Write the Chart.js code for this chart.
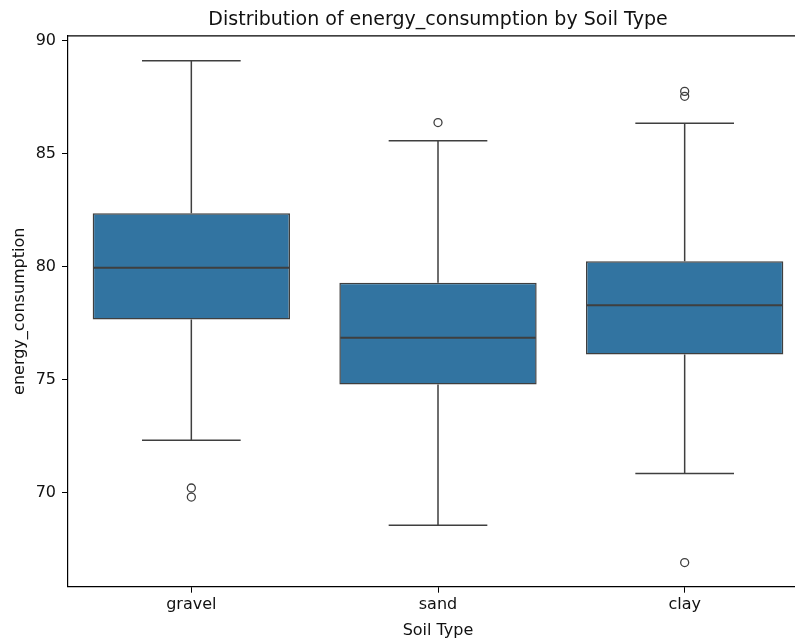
<!DOCTYPE html>
<html>
<head>
<meta charset="utf-8">
<script src="https://cdn.jsdelivr.net/npm/chart.js@4"></script>
<style>
  html, body { margin: 0; padding: 0; background: #fff; overflow: hidden; width: 795px; height: 641px; }
  #wrap { width: 795px; height: 641px; overflow: hidden; }
  canvas { display: block; }
</style>
</head>
<body>
<div id="wrap">
  <canvas id="chart" width="808" height="641" style="width:808px;height:641px"></canvas>
</div>
<script>
// Soil types and box statistics
const categories = ['gravel', 'sand', 'clay'];
const q1 = [77.66, 74.78, 76.11];
const median = [79.95, 76.85, 78.29];
const q3 = [82.36, 79.29, 80.24];
const whiskerLow = [72.31, 68.55, 70.84];
const whiskerHigh = [89.11, 85.57, 86.35];
const outliersGravel = [70.2, 69.8];
const outliersSand = [86.38];
const outliersClay = [87.76, 87.54, 66.9];
const yTicks = [70, 75, 80, 85, 90];

const boxColor = '#3274a1';
const lineColor = '#3f3f3f';
const font = 'DejaVu Sans';

const outlierPoints = [
  ...outliersGravel.map(v => ({ x: 'gravel', y: v })),
  ...outliersSand.map(v => ({ x: 'sand', y: v })),
  ...outliersClay.map(v => ({ x: 'clay', y: v })),
];

// whiskers, caps, medians and the top spine (right spine falls outside the frame)
const boxPlugin = {
  id: 'boxExtras',
  afterDatasetsDraw(chart) {
    const { ctx, scales: { x, y }, chartArea } = chart;
    const meta = chart.getDatasetMeta(0);
    ctx.save();
    ctx.strokeStyle = lineColor;
    ctx.lineWidth = 1.5;
    categories.forEach((c, i) => {
      const bar = meta.data[i];
      const cx = x.getPixelForValue(i);
      const half = bar.width / 2;
      const capHalf = half / 2;
      ctx.beginPath();
      // upper whisker
      ctx.moveTo(cx, y.getPixelForValue(q3[i]));
      ctx.lineTo(cx, y.getPixelForValue(whiskerHigh[i]));
      ctx.moveTo(cx - capHalf, y.getPixelForValue(whiskerHigh[i]));
      ctx.lineTo(cx + capHalf, y.getPixelForValue(whiskerHigh[i]));
      // lower whisker
      ctx.moveTo(cx, y.getPixelForValue(q1[i]));
      ctx.lineTo(cx, y.getPixelForValue(whiskerLow[i]));
      ctx.moveTo(cx - capHalf, y.getPixelForValue(whiskerLow[i]));
      ctx.lineTo(cx + capHalf, y.getPixelForValue(whiskerLow[i]));
      ctx.stroke();
      // median
      ctx.beginPath();
      ctx.lineWidth = 2;
      ctx.moveTo(cx - half + 1, y.getPixelForValue(median[i]));
      ctx.lineTo(cx + half - 1, y.getPixelForValue(median[i]));
      ctx.stroke();
      ctx.lineWidth = 1.5;
    });
    ctx.strokeStyle = '#000';
    ctx.lineWidth = 1.2;
    ctx.beginPath();
    ctx.moveTo(chartArea.left, chartArea.top);
    ctx.lineTo(chartArea.right, chartArea.top);
    ctx.stroke();
    ctx.restore();
  }
};

new Chart(document.getElementById('chart').getContext('2d'), {
  type: 'bar',
  data: {
    labels: categories,
    datasets: [
      {
        label: 'box',
        data: categories.map((c, i) => [q1[i], q3[i]]),
        backgroundColor: boxColor,
        borderColor: lineColor,
        borderWidth: 1.5,
        borderSkipped: false,
        barPercentage: 0.8,
        categoryPercentage: 1.0,
      },
      {
        type: 'scatter',
        label: 'outliers',
        data: outlierPoints,
        pointStyle: 'circle',
        pointRadius: 4,
        pointBackgroundColor: 'rgba(0,0,0,0)',
        pointBorderColor: lineColor,
        pointBorderWidth: 1.3,
      }
    ]
  },
  options: {
    responsive: false,
    animation: false,
    layout: { autoPadding: false, padding: 0 },
    plugins: {
      legend: { display: false },
      tooltip: { enabled: false },
      title: {
        display: true,
        text: 'Distribution of energy_consumption by Soil Type',
        fullSize: false,
        color: '#111',
        font: { family: font, size: 19, weight: 'normal' },
        padding: { top: 9, bottom: 4 },
      },
    },
    scales: {
      x: {
        type: 'category',
        offset: true,
        grid: { display: true, drawOnChartArea: false, drawTicks: true, tickLength: 6, color: '#000', offset: false },
        border: { display: true, color: '#000', width: 1.2 },
        ticks: { color: '#111', padding: 3, font: { family: font, size: 16 } },
        title: {
          display: true, text: 'Soil Type', color: '#111',
          font: { family: font, size: 16 }, padding: { top: 0, bottom: 1 }
        },
        afterFit(scale) { scale.height = 54.3; },
      },
      y: {
        min: 65.83,
        max: 90.22,
        grid: { display: true, drawOnChartArea: false, drawTicks: true, tickLength: 6, color: '#000' },
        border: { display: true, color: '#000', width: 1.2 },
        ticks: { color: '#111', padding: 6, font: { family: font, size: 16 } },
        afterBuildTicks(scale) { scale.ticks = yTicks.map(v => ({ value: v })); },
        title: {
          display: true, text: 'energy_consumption', color: '#111',
          font: { family: font, size: 16 }, padding: { top: 10, bottom: 0 }
        },
        afterFit(scale) { scale.width = 68; },
      }
    }
  },
  plugins: [boxPlugin]
});
</script>
</body>
</html>
